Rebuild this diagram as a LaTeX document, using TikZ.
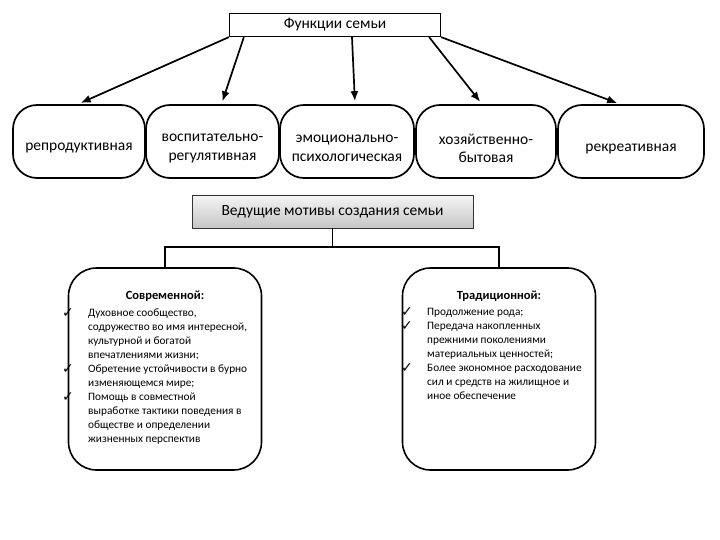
\documentclass[tikz,border=0pt]{standalone}
\usepackage{fontspec}
\setmainfont{Carlito}
\newfontfamily\chkfont{DejaVu Sans}
\usetikzlibrary{arrows.meta}

\newcommand{\tick}{\raisebox{-1pt}{\chkfont\fontsize{14}{14}\selectfont ✓}}

\begin{document}
\begin{tikzpicture}[x=1pt, y=-1pt, >={Latex[length=10pt,width=8pt]},
      func/.style={draw, line width=1.7pt, rounded corners=24pt, minimum height=73pt},
      ftext/.style={align=center, yshift=-7pt, font=\fontsize{15.5}{18.5}\selectfont},
      motive/.style={draw, line width=1.6pt, rounded corners=28pt, minimum width=193pt, minimum height=202pt},
      head/.style={font=\fontsize{12.5}{14}\selectfont\bfseries},
      list/.style={anchor=north west, inner sep=0pt, font=\fontsize{11.3}{14}\selectfont},
      link/.style={->, line width=1.7pt, shorten >=3pt}]
    \useasboundingbox (0,0) rectangle (720,540);
    % functions of the family
    \node[draw, line width=1.3pt, minimum width=211pt, minimum height=23pt, font=\fontsize{15.5}{18}\selectfont] (fam) at (335,25) {Функции семьи};
    \node[func, minimum width=132pt, label={[ftext]center:репродуктивная}] (rep) at (79,141.5) {};
    \node[func, minimum width=133pt, label={[ftext]center:{воспитательно-\\регулятивная}}] (vos) at (212.5,141.5) {};
    \node[func, minimum width=134pt, label={[ftext]center:{эмоционально-\\психологическая}}] (emo) at (347,141.5) {};
    \node[func, minimum width=140pt, label={[ftext]center:{хозяйственно-\\бытовая}}] (hoz) at (486,141.5) {};
    \node[func, minimum width=146pt, label={[ftext]center:рекреативная}] (rek) at (631,141.5) {};
    \draw[link] (fam.south west) -- ([xshift=-1pt]rep.north);
    \draw[link] ([xshift=15pt]fam.south west) -- ([xshift=9pt]vos.north);
    \draw[link] ([xshift=17pt]fam.south) -- ([xshift=8pt]emo.north);
    \draw[link] ([xshift=-12pt]fam.south east) -- ([xshift=-4pt]hoz.north);
    \draw[link] (fam.south east) -- ([xshift=-11pt]rek.north);
    % motives
    \node[draw=black!80, line width=0.8pt, top color=gray!8, bottom color=gray!45, minimum width=281pt, minimum height=33pt, font=\fontsize{15.5}{18.5}\selectfont] (mot) at (332.5,211.5) {Ведущие мотивы создания семьи};
    \node[motive] (mod) at (165,369) {};
    \node[motive] (trd) at (499,369) {};
    \draw[line width=1.6pt] (mot.south) -- (mot.south |- 0,248);
    \draw[line width=1.6pt] (mod.north) -- ++(0,-20) -| (trd.north);
    \node[head] (modh) at (165,296) {Современной:};
    \node[head] (trdh) at (499,296) {Традиционной:};
    \node[list] (modl) at (62,306) {\begin{tabular}{@{}p{26pt}@{}l@{}}
      \tick & Духовное сообщество,\\
            & содружество во имя интересной,\\
            & культурной и богатой\\
            & впечатлениями жизни;\\
      \tick & Обретение устойчивости в бурно\\
            & изменяющемся мире;\\
      \tick & Помощь в совместной\\
            & выработке тактики поведения в\\
            & обществе и определении\\
            & жизненных перспектив
    \end{tabular}};
    \node[list] (trdl) at (401,305) {\begin{tabular}{@{}p{26pt}@{}l@{}}
      \tick & Продолжение рода;\\
      \tick & Передача накопленных\\
            & прежними поколениями\\
            & материальных ценностей;\\
      \tick & Более экономное расходование\\
            & сил и средств на жилищное и\\
            & иное обеспечение
    \end{tabular}};
  \end{tikzpicture}
\end{document}
